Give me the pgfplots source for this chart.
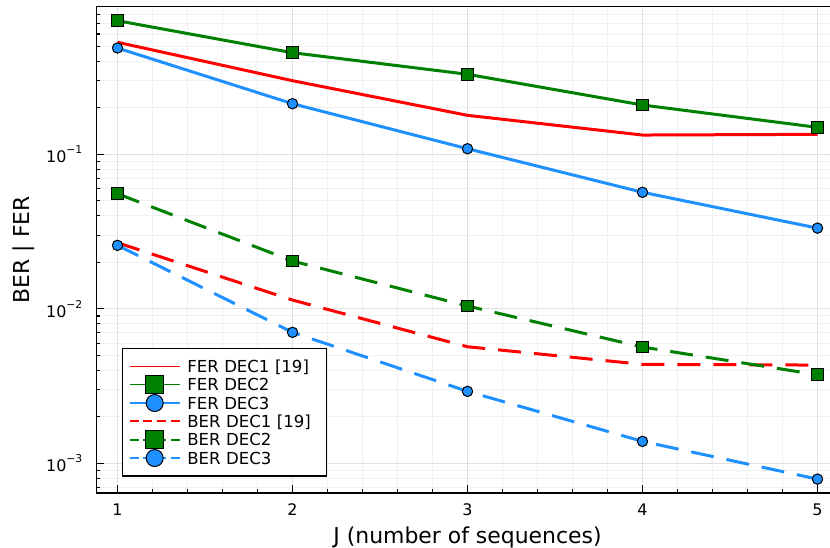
\documentclass[border=0pt]{standalone}
\usepackage{fontspec}
\setmainfont{DejaVu Sans}
\usepackage{pgfplots}
\pgfplotsset{compat=1.18}
\definecolor{jred}{HTML}{FF0000}
\definecolor{jgreen}{HTML}{008000}
\definecolor{jblue}{HTML}{1E90FF}
% 10^-n tick label set in the text font
\newcommand{\dec}[1]{10\raisebox{4.6bp}{\fontsize{5.4}{6}\selectfont −#1}}
% fixed box for every legend sample
\newcommand{\legbox}{\path[use as bounding box, draw=none, fill=none] (0bp,-4.585bp) rectangle (28.8bp,4.585bp);}
% short dashed sample line
\newcommand{\legdash}[1]{\draw[draw=#1, line width=1bp, dash pattern=on 4.5bp off 2.33bp]
  (0bp,0bp) -- (25bp,0bp);}

\begin{document}
\begin{tikzpicture}
\begin{axis}[
  scale only axis, width=371bp, height=243.25bp,
  xmin=0.88, xmax=5.12, ymode=log, ymin=6.43e-4, ymax=0.905,
  axis line style={line width=0.7bp},
  tick align=inside, xtick pos=left, ytick pos=left,
  major tick length=3.85bp, minor tick length=1.9bp,
  tick style={black, line width=0.6bp},
  xtick={1,2,3,4,5}, minor x tick num=4,
  ytick={1e-3,1e-2,1e-1}, yticklabels={\dec{3},\dec{2},\dec{1}},
  minor ytick={7e-4,8e-4,9e-4,2e-3,3e-3,4e-3,5e-3,6e-3,7e-3,8e-3,9e-3,
    2e-2,3e-2,4e-2,5e-2,6e-2,7e-2,8e-2,9e-2,2e-1,3e-1,4e-1,5e-1,6e-1,7e-1,8e-1,9e-1},
  grid=both, major grid style={black!12, line width=0.5bp},
  minor grid style={black!6, line width=0.5bp},
  /pgf/number format/assume math mode=true,
  ticklabel style={font=\fontsize{8}{9.6}\selectfont},
  xticklabel style={yshift=-1.8bp},
  yticklabel style={xshift=-3.6bp},
  xlabel={J (number of sequences)}, ylabel={BER | FER},
  label style={font=\fontsize{11}{13}\selectfont},
  xlabel style={at={(axis description cs:0.5,0)}, anchor=base, yshift=-25.4bp},
  ylabel style={at={(axis description cs:-0.098,0.5)}, anchor=center},
  legend cell align=left,
  legend style={at={(0.03437,0.0335)}, anchor=south west, draw=black,
    line width=0.7bp, inner xsep=3.5bp, inner ysep=4.4bp, row sep=0pt,
    font=\fontsize{8.3}{9}\selectfont,
    nodes={inner sep=0pt, text height=7.6bp, text depth=1.57bp,
      text width=66bp, align=left}},
]
\addplot[jred, line width=1.5bp,
  legend image code/.code={\legbox
    \draw[draw=jred, line width=0.65bp, solid] (0bp,0bp) -- (25bp,0bp);}]
  coordinates {(1,0.531) (2,0.2996) (3,0.1788) (4,0.1333) (5,0.1347)};
\addlegendentry{FER DEC1 [19]}
\addplot[jgreen, line width=1.5bp, mark=square*, mark size=2.875bp,
  mark options={solid, fill=jgreen, draw=black, line width=0.5bp},
  legend image code/.code={\legbox
    \draw[draw=jgreen, line width=0.65bp, solid] (0bp,0bp) -- (25bp,0bp);
    \draw[mark=square*, mark size=4.6bp, mark options={solid, fill=jgreen, draw=black, line width=0.5bp}]
      plot coordinates {(12.5bp,0bp)};}]
  coordinates {(1,0.7322) (2,0.4546) (3,0.3296) (4,0.2085) (5,0.1495)};
\addlegendentry{FER DEC2}
\addplot[jblue, line width=1.5bp, mark=*, mark size=2.6bp,
  mark options={solid, fill=jblue, draw=black, line width=0.5bp},
  legend image code/.code={\legbox
    \draw[draw=jblue, line width=0.65bp, solid] (0bp,0bp) -- (25bp,0bp);
    \draw[mark=*, mark size=4.25bp, mark options={solid, fill=jblue, draw=black, line width=0.5bp}]
      plot coordinates {(12.5bp,0bp)};}]
  coordinates {(1,0.4875) (2,0.2126) (3,0.1087) (4,0.0568) (5,0.0333)};
\addlegendentry{FER DEC3}
\addplot[jred, line width=1.5bp, dash pattern=on 11.5bp off 6.5bp,
  legend image code/.code={\legbox \legdash{jred}}]
  coordinates {(1,0.02678) (2,0.0114) (3,0.005685) (4,0.004373) (5,0.004326)};
\addlegendentry{BER DEC1 [19]}
\addplot[jgreen, line width=1.5bp, dash pattern=on 11.5bp off 6.5bp, mark=square*, mark size=2.875bp,
  mark options={solid, fill=jgreen, draw=black, line width=0.5bp},
  legend image code/.code={\legbox \legdash{jgreen}
    \draw[mark=square*, mark size=4.6bp, mark options={solid, fill=jgreen, draw=black, line width=0.5bp}]
      plot coordinates {(12.5bp,0bp)};}]
  coordinates {(1,0.05559) (2,0.02039) (3,0.01043) (4,0.00566) (5,0.003746)};
\addlegendentry{BER DEC2}
\addplot[jblue, line width=1.5bp, dash pattern=on 11.5bp off 6.5bp, mark=*, mark size=2.6bp,
  mark options={solid, fill=jblue, draw=black, line width=0.5bp},
  legend image code/.code={\legbox \legdash{jblue}
    \draw[mark=*, mark size=4.25bp, mark options={solid, fill=jblue, draw=black, line width=0.5bp}]
      plot coordinates {(12.5bp,0bp)};}]
  coordinates {(1,0.02576) (2,0.007046) (3,0.002924) (4,0.001388) (5,0.000791)};
\addlegendentry{BER DEC3}
\end{axis}
\pgfresetboundingbox
\path (-48.25bp,-27.5bp) rectangle (366.75bp,246.5bp);
\end{tikzpicture}
\end{document}
